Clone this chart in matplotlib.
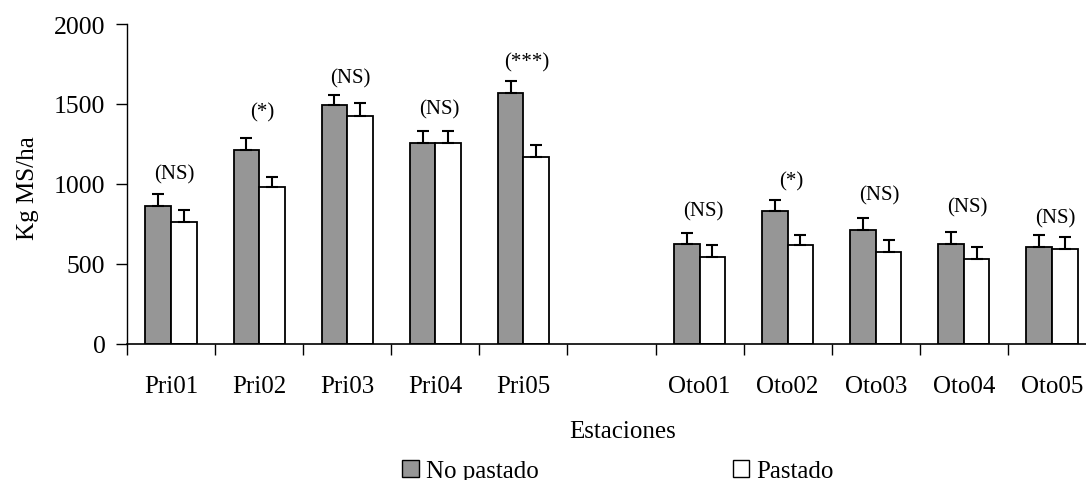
import matplotlib
matplotlib.use("Agg")
import matplotlib.pyplot as plt
import numpy as np
from matplotlib.patches import Patch

categories = ["Pri01", "Pri02", "Pri03", "Pri04", "Pri05", "",
              "Oto01", "Oto02", "Oto03", "Oto04", "Oto05"]
no_pastado = [864, 1214, 1494, 1256, 1569, np.nan, 627, 831, 715, 627, 606]
no_pastado_err = [73, 75, 62, 77, 75, np.nan, 67, 67, 75, 75, 75]
pastado = [764, 979, 1427, 1256, 1171, np.nan, 542, 617, 573, 531, 596]
pastado_err = [75, 67, 77, 77, 73, np.nan, 75, 64, 77, 73, 73]
annotations = ["(NS)", "(*)", "(NS)", "(NS)", "(***)", "",
               "(NS)", "(*)", "(NS)", "(NS)", "(NS)"]
annotation_y = [1062, 1452, 1662, 1469, 1764, np.nan, 833, 1017, 933, 860, 787]

plt.rcParams['font.family'] = ['Liberation Serif', 'DejaVu Serif']

W, H = 1086, 481
fig = plt.figure(figsize=(W / 100, H / 100), dpi=100)
left, right, bottom, top = 127, 1096, 345, 25
ax = fig.add_axes([left / W, 1 - bottom / H, (right - left) / W, (bottom - top) / H])

x = np.arange(len(categories))
bw = 0.29
gray = "#969696"
ax.bar(x - bw / 2, no_pastado, bw, color=gray, edgecolor="black", linewidth=1.3, zorder=2)
ax.bar(x + bw / 2, pastado, bw, color="white", edgecolor="black", linewidth=1.3, zorder=2)
z = np.zeros(len(x))
ax.errorbar(x - bw / 2, no_pastado, yerr=[z, no_pastado_err], fmt="none",
            ecolor="black", elinewidth=1.5, capsize=4.5, capthick=1.5, zorder=3)
ax.errorbar(x + bw / 2, pastado, yerr=[z, pastado_err], fmt="none",
            ecolor="black", elinewidth=1.5, capsize=4.5, capthick=1.5, zorder=3)

for xi, t, yi in zip(x, annotations, annotation_y):
    if t:
        ax.text(xi + 0.04, yi, t, ha="center", va="center", fontsize=15)

ax.set_xlim(-0.5, len(categories) - 0.5)
ax.set_ylim(0, 2000)
ax.set_yticks([0, 500, 1000, 1500, 2000])
ax.set_xticks(np.arange(len(categories) + 1) - 0.5)
ax.set_xticklabels([])
ax.set_xticks(x, minor=True)
ax.set_xticklabels(categories, minor=True, fontsize=18)
ax.tick_params(axis="x", which="minor", length=0, pad=22)
ax.tick_params(axis="x", which="major", length=8, width=1, direction="out")
ax.tick_params(axis="y", length=8, width=1, direction="out", labelsize=18.5, pad=7.5)
for s in ["top", "right"]:
    ax.spines[s].set_visible(False)
ax.spines["left"].set_linewidth(1)
ax.spines["bottom"].set_linewidth(1.2)

fig.text(28 / W, 1 - 188 / H, "Kg MS/ha", rotation=90, ha="center", va="center", fontsize=18)
fig.text(623 / W, 1 - 432 / H, "Estaciones", ha="center", va="center", fontsize=18)

handles = [Patch(facecolor=gray, edgecolor="black", linewidth=1),
           Patch(facecolor="white", edgecolor="black", linewidth=1)]
fig.legend(handles, ["No pastado", "Pastado"], loc="center", ncol=2,
           bbox_to_anchor=(618 / W, 1 - 472 / H), frameon=False, fontsize=18,
           handlelength=0.65, handleheight=0.65, handletextpad=0.3,
           columnspacing=7.75, borderaxespad=0, borderpad=0)

fig.savefig("out.png", dpi=100)
